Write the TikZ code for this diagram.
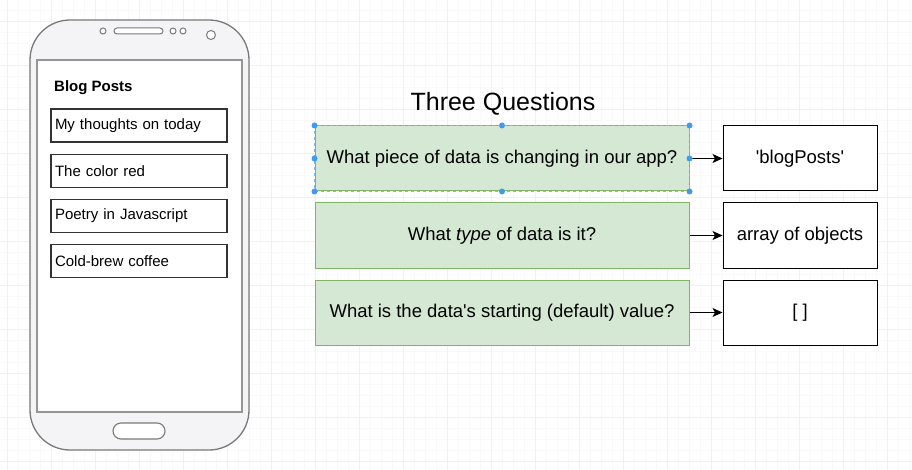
\documentclass[tikz,border=0pt]{standalone}
\usepackage{fontspec}
\setmainfont{Liberation Sans}
\usetikzlibrary{arrows.meta, positioning}
\definecolor{GridMinor}{HTML}{F9F8FA}
\definecolor{GridMajor}{HTML}{F1EFF3}
\definecolor{PhoneGray}{HTML}{7A7A7A}
\definecolor{PhoneFill}{HTML}{F4F3F6}
\definecolor{QuestFill}{HTML}{D5E8D4}
\definecolor{QuestDraw}{HTML}{82B366}
\definecolor{SelBlue}{HTML}{3D9CF0}
\definecolor{InkGray}{HTML}{333333}
\tikzset{
  question/.style={draw=QuestDraw, line width=1pt, fill=QuestFill, align=center, minimum width=374pt, minimum height=65pt, inner sep=0pt, font=\fontsize{18.5}{22}\selectfont},
  answer/.style={draw=black, line width=1pt, fill=white, align=center, minimum width=154pt, minimum height=65pt, inner sep=0pt, font=\fontsize{18.5}{22}\selectfont},
  postbox/.style={draw=InkGray, line width=1.2pt, fill=white, text width=168pt, inner xsep=4pt, inner ysep=0pt, align=left, minimum height=33pt, font=\fontsize{15}{18}\selectfont},
  arrow/.style={-{Stealth[length=10pt, width=9pt, inset=2.5pt]}, line width=1pt, draw=black}
}
\begin{document}
\begin{tikzpicture}[x=1pt, y=-1pt]
\fill[white] (0,0) rectangle (912,470);
\useasboundingbox (0,0) rectangle (912,470);
% grid
\foreach \gx in {7.5,18.5,...,912} \draw[GridMinor, line width=0.6pt] (\gx,0) -- (\gx,470);
\foreach \gy in {10,21,...,470} \draw[GridMinor, line width=0.6pt] (0,\gy) -- (912,\gy);
\foreach \gx in {7.5,51.5,...,912} \draw[GridMajor, line width=0.8pt] (\gx,0) -- (\gx,470);
\foreach \gy in {21,65,...,470} \draw[GridMajor, line width=0.8pt] (0,\gy) -- (912,\gy);

% phone
\draw[PhoneGray, line width=1.3pt, fill=PhoneFill, rounded corners=40pt] (30,20) rectangle (249,450);
\draw[PhoneGray!80, line width=1.8pt, fill=white] (37,60) rectangle (242,412);
\draw[PhoneGray, line width=1pt, fill=white] (103,31) circle (3pt);
\draw[PhoneGray, line width=1pt, fill=white, rounded corners=3pt] (114,28) rectangle (163,34);
\draw[PhoneGray, line width=1pt, fill=white] (173,31) circle (3pt);
\draw[PhoneGray, line width=1pt, fill=white] (183,31) circle (3pt);
\draw[PhoneGray, line width=1pt, fill=white] (211,35) circle (4.5pt);
\draw[PhoneGray, line width=1.1pt, fill=white, rounded corners=8pt] (113,423) rectangle (165,439);

% blog list
\node[anchor=west, inner sep=0pt, font=\fontsize{15}{18}\selectfont\bfseries] (title) at (54,88) {Blog Posts};
\node[postbox] (p1) at (139,125.5) {My thoughts on today};
\node[postbox, below=11pt of p1] (p2) {The color red};
\node[postbox, below=11pt of p2] (p3) {Poetry in Javascript};
\node[postbox, below=11pt of p3] (p4) {Cold-brew coffee};

% three questions
\node[font=\fontsize{25}{30}\selectfont] (head) at (503,104) {Three Questions};
\node[question] (q1) at (502,158.5) {What piece of data is changing in our app?};
\node[question] (q2) at (502,235.5) {What \textit{type} of data is it?};
\node[question] (q3) at (502,312.5) {What is the data\textquotesingle s starting (default) value?};
\node[answer, right=33pt of q1] (a1) {\textquotesingle blogPosts\textquotesingle};
\node[answer, right=33pt of q2] (a2) {array of objects};
\node[answer, right=33pt of q3] (a3) {[ ]};
\draw[arrow] (q1) -- (a1);
\draw[arrow] (q2) -- (a2);
\draw[arrow] (q3) -- (a3);

% selection
\draw[SelBlue!70, dashed, line width=0.8pt] (q1.north west) rectangle (q1.south east);
\foreach \a in {north west, north, north east, west, east, south west, south, south east}
  \fill[SelBlue] (q1.\a) circle (3pt);
\end{tikzpicture}
\end{document}
